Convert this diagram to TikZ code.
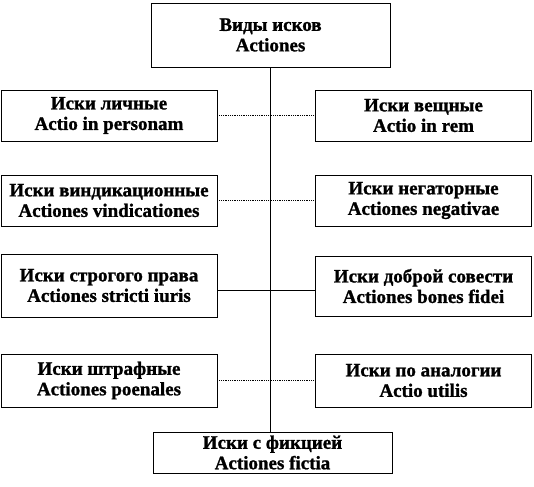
\documentclass[tikz,border=0pt]{standalone}
\usepackage{fontspec}
\setmainfont[BoldFeatures={FakeBold=1.2}]{Liberation Serif}
\usetikzlibrary{positioning}
\tikzset{
  every picture/.style={line width=0.8pt},
  box/.style={draw=black, fill=white, align=center, inner sep=0pt, minimum width=#1, font=\fontsize{19}{20.5}\selectfont\bfseries},
  box/.default=216pt,
  link/.style={draw=black, line width=0.8pt},
  dotlink/.style={link, densely dotted},
}

\begin{document}
\begin{tikzpicture}[x=1pt, y=-1pt]
  \useasboundingbox (0,0) rectangle (534,486);
  % boxes
  \node[box=239pt, minimum height=64pt] (top) at (270.5,35) {Виды исков\\Actiones};
  \node[box, minimum height=51pt] (l1) at (109,115.5) {Иски личные\\Actio in personam};
  \node[box, minimum height=51pt] (r1) at (423.5,115.5) {Иски вещные\\Actio in rem};
  \node[box, minimum height=51pt] (l2) at (109,200.5) {Иски виндикационные\\Actiones vindicationes};
  \node[box, minimum height=51pt] (r2) at (423.5,200.5) {Иски негаторные\\Actiones negativae};
  \node[box, minimum height=63pt] (l3) at (109,285.5) {Иски строгого права\\Actiones stricti iuris};
  \node[box, minimum height=60pt] (r3) at (423.5,286) {Иски доброй совести\\Actiones bones fidei};
  \node[box, minimum height=53pt] (l4) at (109,380.5) {Иски штрафные\\Actiones poenales};
  \node[box, minimum height=53pt] (r4) at (423.5,380.5) {Иски по аналогии\\Actio utilis};
  \node[box=239pt, minimum height=41pt] (bot) at (272.5,452.5) {Иски с фикцией\\Actiones fictia};
  % connectors
  \draw[link] (top.south) -- (top.south |- bot.north);
  \draw[dotlink] (l1.east) -- (r1.west);
  \draw[dotlink] (l2.east) -- (r2.west);
  \draw[link] ([yshift=-5pt]l3.east) -- ([yshift=-5pt]l3.east -| r3.west);
  \draw[dotlink] (l4.east) -- (r4.west);
\end{tikzpicture}
\end{document}
